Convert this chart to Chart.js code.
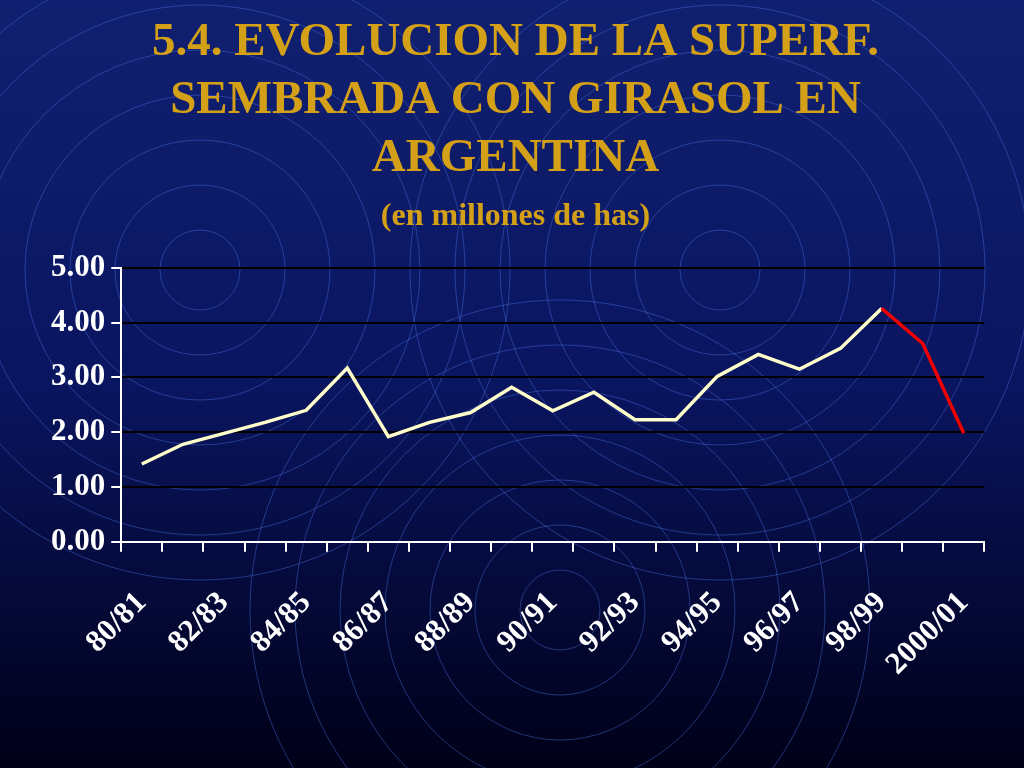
<!DOCTYPE html>
<html><head><meta charset="utf-8">
<script src="https://cdn.jsdelivr.net/npm/chart.js@4"></script>
<style>html,body{margin:0;padding:0;background:#000040}#c{display:block}</style>
</head><body>
<div style="width:1024px;height:768px"><canvas id="c"></canvas></div>
<script>
const seasons=["80/81","81/82","82/83","83/84","84/85","85/86","86/87","87/88","88/89","89/90","90/91","91/92","92/93","93/94","94/95","95/96","96/97","97/98","98/99","99/00","2000/01"];
const tickLabels=["80/81","","82/83","","84/85","","86/87","","88/89","","90/91","","92/93","","94/95","","96/97","","98/99","","2000/01"];
const area=[1.42,1.78,1.98,2.18,2.40,3.17,1.92,2.18,2.36,2.82,2.39,2.73,2.23,2.23,3.02,3.42,3.15,3.53,4.26,3.62,1.98];
const redFrom=18;
const bg={id:'bg',beforeDraw(ch){const c=ch.ctx,w=ch.width,h=ch.height;c.save();
const g=c.createLinearGradient(0,0,0,h);g.addColorStop(0,'#102070');g.addColorStop(0.5,'#0a1560');g.addColorStop(1,'#000018');
c.fillStyle=g;c.fillRect(0,0,w,h);
c.strokeStyle='rgba(70,110,220,0.45)';c.lineWidth=1;
[[200,270],[720,270],[560,610]].forEach(([x,y])=>{for(let r=40;r<320;r+=45){c.beginPath();c.arc(x,y,r,0,Math.PI*2);c.stroke();}});
c.restore();}};
new Chart(document.getElementById('c'),{type:'line',plugins:[bg],
data:{labels:seasons,datasets:[{data:area,borderColor:'#FFFFCC',borderWidth:3.5,pointRadius:0,tension:0,
segment:{borderColor:ctx=>ctx.p0DataIndex>=redFrom?'#EE0000':'#FFFFCC'}}]},
options:{responsive:true,maintainAspectRatio:false,animation:false,
layout:{padding:{left:45,right:38,top:14,bottom:52}},
plugins:{legend:{display:false},tooltip:{enabled:false},
title:{display:true,text:["5.4. EVOLUCION DE LA SUPERF.","SEMBRADA CON GIRASOL EN","ARGENTINA"],color:'#D4A017',font:{family:'Liberation Serif',size:47,weight:'bold',lineHeight:1.23},padding:{top:0,bottom:10}},
subtitle:{display:true,text:"(en millones de has)",color:'#D4A017',font:{family:'Liberation Serif',size:32,weight:'bold'},padding:{bottom:32}}},
scales:{
y:{min:0,max:5,ticks:{stepSize:1,color:'#fff',font:{family:'Liberation Serif',size:31,weight:'bold'},callback:v=>v.toFixed(2),padding:6},
grid:{color:'#000',lineWidth:2,drawTicks:true,tickColor:'#fff',tickLength:10},border:{color:'#fff',width:2}},
x:{offset:true,ticks:{autoSkip:false,maxRotation:45,minRotation:45,padding:33,color:'#fff',font:{family:'Liberation Serif',size:31,weight:'bold'},callback:(v,i)=>tickLabels[i]},
grid:{offset:true,drawOnChartArea:false,color:'#fff',lineWidth:2,tickLength:10},border:{color:'#fff',width:2}}}}});
</script></body></html>
